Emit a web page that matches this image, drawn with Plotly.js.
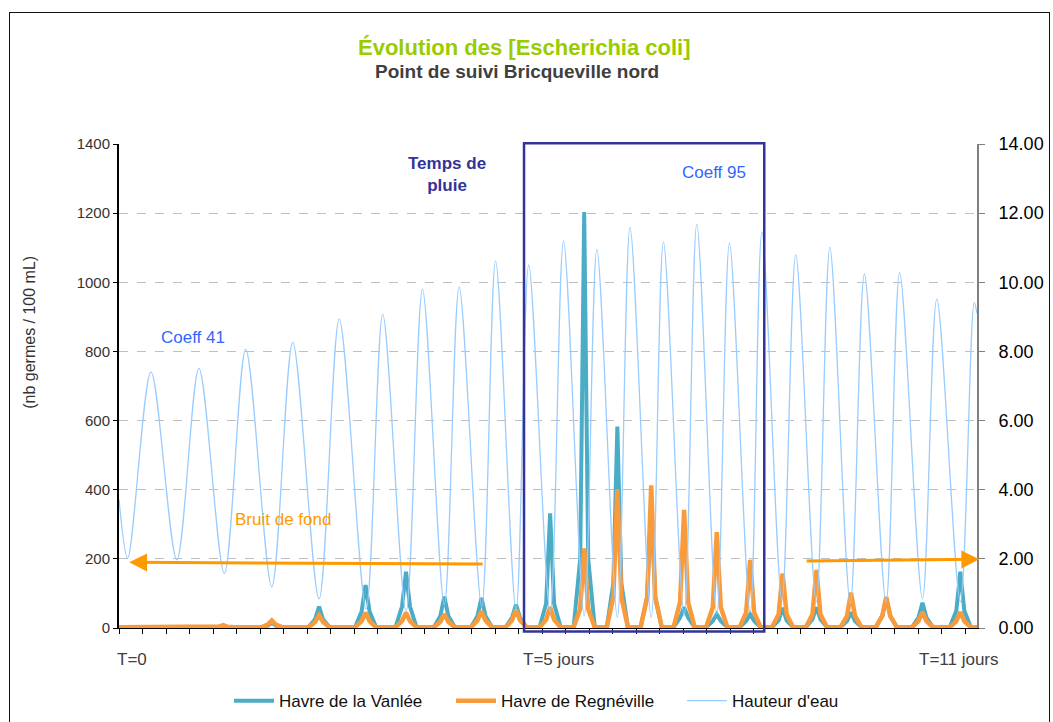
<!DOCTYPE html>
<html><head><meta charset="utf-8">
<script src="https://cdn.plot.ly/plotly-3.0.1.min.js"></script>
<style>
html,body{margin:0;padding:0;background:#fff;}
#wrap{position:relative;width:1053px;height:722px;overflow:hidden;}
#chart{width:1053px;height:722px;}
#frame{position:absolute;left:9px;top:12px;width:1041px;height:740px;border:1.5px solid #111;pointer-events:none;box-sizing:border-box;}
</style></head><body>
<div id="wrap"><div id="chart"></div><div id="frame"></div></div>
<script>
// ---- Data (x = relevé position along the time axis, one unit per tick mark) ----
const waterX = [0, 0.37, 1.36, 2.46, 3.40, 4.48, 5.39, 6.50, 7.39, 8.51, 9.37, 10.51, 11.22, 12.21, 12.91, 13.84, 14.47, 15.43, 16.02, 16.89, 17.43, 18.34, 18.91, 19.79, 20.33, 21.20, 21.74, 22.64, 23.16, 24.04, 24.58, 25.43, 25.97, 26.85, 27.35, 28.20, 28.79, 29.66, 30.24, 31.11, 31.71, 32.63, 33.21, 34.18, 34.79, 35.79, 36.38, 36.5];
const waterHeight = [3.72, 2.02, 7.41, 1.97, 7.51, 1.58, 8.06, 1.19, 8.26, 0.84, 8.94, 0.55, 9.07, 0.47, 9.81, 0.67, 9.87, 0.62, 10.62, 0.52, 10.50, 0.45, 11.20, 0.35, 10.95, 0.30, 11.59, 0.30, 11.17, 0.35, 11.68, 0.40, 11.13, 0.45, 11.46, 0.80, 10.79, 0.75, 11.01, 0.70, 10.24, 0.75, 10.28, 0.85, 9.52, 0.75, 9.41, 9.10];

const spikeTimes = [4.43, 6.50, 8.51, 10.49, 12.21, 13.84, 15.42, 16.89, 18.34, 19.79, 21.20, 22.64, 24.04, 25.43, 26.85, 28.23, 29.67, 31.14, 32.64, 34.18, 35.79];
const vanleePeak     = [5, 15, 62, 124, 163, 91, 87, 68, 332, 1203, 583, 355, 60, 40, 40, 58, 60, 45, 85, 73, 163];
const vanleeShoulder = [2, 7, 25, 48, 62, 35, 35, 30, 70, 200, 130, 90, 30, 20, 20, 22, 25, 20, 35, 30, 50];
const regnePeak      = [8, 22, 37, 44, 44, 40, 49, 53, 60, 230, 401, 413, 342, 277, 197, 158, 168, 102, 90, 46, 46];
const regneShoulder  = [4, 10, 17, 20, 20, 18, 22, 22, 24, 55, 90, 90, 75, 60, 45, 40, 40, 35, 35, 20, 20];
const baseLevel = 2;

const seriesNames = ["Havre de la Vanlée", "Havre de Regnéville", "Hauteur d'eau"];
const leftTicks = [0, 200, 400, 600, 800, 1000, 1200, 1400];
const rightTicks = [0, 2, 4, 6, 8, 10, 12, 14];

function spikeSeries(peaks, shoulders) {
  const xs = [0], ys = [baseLevel];
  spikeTimes.forEach((t, i) => {
    xs.push(t - 0.45, t - 0.17, t, t + 0.17, t + 0.45);
    ys.push(baseLevel, shoulders[i], peaks[i], shoulders[i], baseLevel);
  });
  xs.push(36.5); ys.push(baseLevel);
  return {xs, ys};
}
const van = spikeSeries(vanleePeak, vanleeShoulder);
const reg = spikeSeries(regnePeak, regneShoulder);

const FONT = "Liberation Sans, Arial, sans-serif";

const traces = [
  {x: van.xs, y: van.ys, name: seriesNames[0], type: 'scatter', mode: 'lines',
   line: {color: '#4BACC6', width: 4}, legend: 'legend'},
  {x: reg.xs, y: reg.ys, name: seriesNames[1], type: 'scatter', mode: 'lines',
   line: {color: '#F99A3B', width: 4.5}, legend: 'legend2'},
  {x: waterX, y: waterHeight, name: seriesNames[2], type: 'scatter', mode: 'lines',
   line: {color: '#99CCFF', width: 1.3, shape: 'spline', smoothing: 0.9}, yaxis: 'y2', legend: 'legend3'}
];

const legendBase = {y: -0.151, yanchor: 'middle', xanchor: 'left', orientation: 'h',
  font: {family: FONT, size: 17, color: '#111'}, bgcolor: 'rgba(0,0,0,0)', itemwidth: 40, tracegroupgap: 0};

const layout = {
  width: 1053, height: 722,
  margin: {l: 119, r: 76, t: 144, b: 94, autoexpand: false},
  paper_bgcolor: '#fff', plot_bgcolor: '#fff',
  font: {family: FONT},
  showlegend: true,
  legend: Object.assign({}, legendBase, {x: 0.1282}),
  legend2: Object.assign({}, legendBase, {x: 0.3870}),
  legend3: Object.assign({}, legendBase, {x: 0.6562}),
  xaxis: {range: [0, 36.5], tick0: 0, dtick: 1, ticks: 'outside', ticklen: 5, tickwidth: 1, tickcolor: '#000',
          showline: true, linecolor: '#000', linewidth: 1, showgrid: false, zeroline: false, showticklabels: false, fixedrange: true},
  yaxis: {range: [0, 1400], tickvals: leftTicks, ticks: 'outside', ticklen: 4, tickcolor: '#000',
          showline: true, linecolor: '#000', linewidth: 2, showgrid: true, gridcolor: '#BFBFBF', griddash: 'dash', gridwidth: 1,
          zeroline: false, tickfont: {family: FONT, size: 15, color: '#333'}, fixedrange: true},
  yaxis2: {range: [0, 14], tickvals: rightTicks, tickformat: '.2f', overlaying: 'y', side: 'right',
           ticks: 'outside', ticklen: 6, tickcolor: '#808080', showline: true, linecolor: '#808080', linewidth: 2,
           showgrid: false, zeroline: false, tickfont: {family: FONT, size: 18, color: '#000'}, ticklabelstandoff: 10, fixedrange: true},
  shapes: [
    {type: 'rect', xref: 'x', yref: 'paper', x0: 17.23, x1: 27.45, y0: -0.0072, y1: 1.0015,
     line: {color: '#333399', width: 2.5}, layer: 'above'}
  ],
  annotations: [
    {xref: 'paper', yref: 'paper', x: 0.473, y: 1.2004, text: '<b>Évolution des [Escherichia coli]</b>', showarrow: false,
     xanchor: 'center', yanchor: 'middle', font: {family: FONT, size: 22, color: '#99CC00'}},
    {xref: 'paper', yref: 'paper', x: 0.464, y: 1.1488, text: '<b>Point de suivi Bricqueville nord</b>', showarrow: false,
     xanchor: 'center', yanchor: 'middle', font: {family: FONT, size: 19, color: '#404040'}},
    {xref: 'paper', yref: 'paper', x: -0.1037, y: 0.61, text: '(nb germes / 100 mL)', textangle: -90, showarrow: false,
     xanchor: 'center', yanchor: 'middle', font: {family: FONT, size: 16, color: '#333'}},
    {xref: 'x', yref: 'y', x: 13.94, y: 1313, text: '<b>Temps de<br>pluie</b>', showarrow: false,
     xanchor: 'center', yanchor: 'middle', font: {family: FONT, size: 17, color: '#333399'}},
    {xref: 'x', yref: 'y', x: 3.16, y: 840, text: 'Coeff 41', showarrow: false,
     xanchor: 'center', yanchor: 'middle', font: {family: FONT, size: 17, color: '#3366FF'}},
    {xref: 'x', yref: 'y', x: 25.31, y: 1319, text: 'Coeff 95', showarrow: false,
     xanchor: 'center', yanchor: 'middle', font: {family: FONT, size: 17, color: '#3366FF'}},
    {xref: 'x', yref: 'y', x: 6.97, y: 315, text: 'Bruit de fond', showarrow: false,
     xanchor: 'center', yanchor: 'middle', font: {family: FONT, size: 17, color: '#FF9900'}},
    {xref: 'paper', yref: 'paper', x: -0.0047, y: -0.0661, text: 'T=0', showarrow: false,
     xanchor: 'left', yanchor: 'middle', font: {family: FONT, size: 17, color: '#404040'}},
    {xref: 'x', yref: 'paper', x: 17.09, y: -0.0661, text: 'T=5 jours', showarrow: false,
     xanchor: 'left', yanchor: 'middle', font: {family: FONT, size: 17, color: '#404040'}},
    {xref: 'x', yref: 'paper', x: 33.96, y: -0.0661, text: 'T=11 jours', showarrow: false,
     xanchor: 'left', yanchor: 'middle', font: {family: FONT, size: 17, color: '#404040'}},
    {xref: 'x', yref: 'y', axref: 'x', ayref: 'y', x: 0.43, y: 190, ax: 15.53, ay: 185, text: '', showarrow: true,
     arrowhead: 2, arrowsize: 1.2, arrowwidth: 3, arrowcolor: '#FF9900', standoff: 0},
    {xref: 'x', yref: 'y', axref: 'x', ayref: 'y', x: 36.6, y: 199, ax: 29.19, ay: 194, text: '', showarrow: true,
     arrowhead: 2, arrowsize: 1.2, arrowwidth: 3, arrowcolor: '#FF9900', standoff: 0}
  ]
};

Plotly.newPlot('chart', traces, layout, {displayModeBar: false, staticPlot: true});
</script>
</body></html>
